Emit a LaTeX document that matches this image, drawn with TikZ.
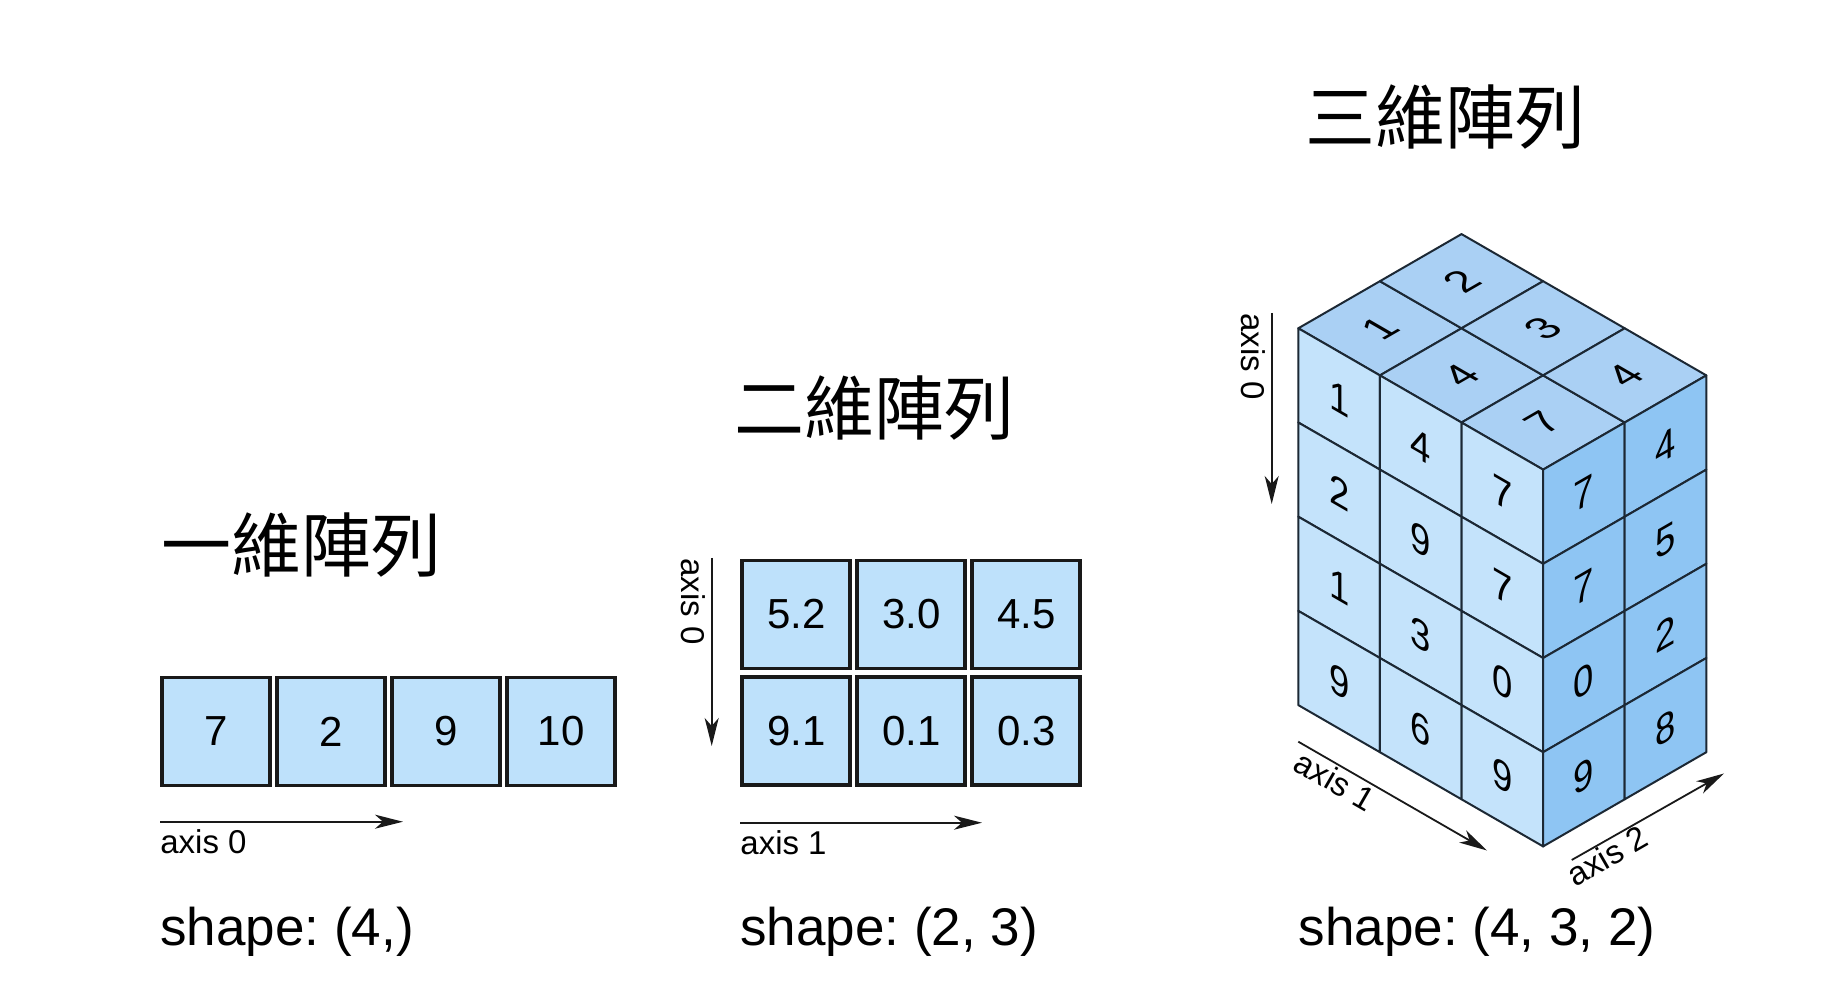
\documentclass[tikz,border=0pt]{standalone}
\usepackage{fontspec}
\setmainfont{Liberation Sans}
\newfontfamily\cjkfont{Noto Sans CJK TC}
\usepackage{tikz}
\usetikzlibrary{arrows.meta}
\frenchspacing
\definecolor{cellblue}{RGB}{190,225,251}
\definecolor{topblue}{RGB}{170,208,244}
\definecolor{leftblue}{RGB}{196,227,251}
\definecolor{rightblue}{RGB}{142,197,243}
\definecolor{edgeline}{RGB}{28,40,52}
\tikzset{
  cell/.style={
    rectangle, draw=black!90, line width=1.75pt, fill=cellblue,
    minimum size=54pt, inner sep=0pt, outer sep=0pt, font=\fontsize{21}{21}\selectfont
  },
  topface/.style={draw=edgeline, line width=1pt, line join=round, fill=topblue},
  leftface/.style={draw=edgeline, line width=1pt, line join=round, fill=leftblue},
  rightface/.style={draw=edgeline, line width=1pt, line join=round, fill=rightblue},
  facenum/.style={transform shape, inner sep=0pt, font=\fontsize{21}{21}\selectfont},
  axisarrow/.style={-{Stealth[length=14pt, width=7pt, inset=4pt]}, line width=0.9pt, draw=black!90},
  axislabel/.style={inner sep=0pt, anchor=north west, font=\fontsize{16.5}{16.5}\selectfont},
  arrtitle/.style={anchor=west, inner sep=0pt, font=\cjkfont\fontsize{35}{35}\selectfont},
  shapelabel/.style={anchor=base west, inner sep=0pt, font=\fontsize{26.5}{26.5}\selectfont}
}
\begin{document}
\begin{tikzpicture}[x=0.5pt, y=-0.5pt]

\path[use as bounding box, fill=white] (0,0) rectangle (1842,988);

% one dimension
\node[arrtitle] (titleA) at (161,545.5) {一維陣列};
\foreach \v [count=\i from 0] in {7,2,9,10}
  \node[cell] (a\i) at ({216.2+115*\i},731.5) {\v};
\coordinate (axA0s) at (160,821.7);
\coordinate (axA0e) at (403,821.7);
\draw[axisarrow] (axA0s) -- (axA0e);
\node[axislabel] (labA0) at (160,829) {axis 0};
\node[shapelabel] (shapeA) at (160,945) {shape: (4,)};

% two dimensions
\node[arrtitle] (titleB) at (734,408) {二維陣列};
\foreach \v [count=\j from 0] in {5.2,3.0,4.5}
  \node[cell] (b0\j) at ({796.2+115*\j},614.5) {\v};
\foreach \v [count=\j from 0] in {9.1,0.1,0.3}
  \node[cell] (b1\j) at ({796.2+115*\j},731) {\v};
\coordinate (axB0s) at (711.7,558);
\coordinate (axB0e) at (711.7,746);
\draw[axisarrow] (axB0s) -- (axB0e);
\node[axislabel, rotate=-90] (labB0) at (706,558) {axis 0};
\coordinate (axB1s) at (740,822.7);
\coordinate (axB1e) at (982,822.7);
\draw[axisarrow] (axB1s) -- (axB1e);
\node[axislabel] (labB1) at (740,830) {axis 1};
\node[shapelabel] (shapeB) at (740,945) {shape: (2, 3)};

% three dimensions
\node[arrtitle] (titleC) at (1305,117) {三維陣列};
\begin{scope}[shift={(1298.3,328.3)}, x={(40.8pt,-23.55pt)}, y={(40.8pt,23.55pt)}, z={(0pt,-47.1pt)}]
  \foreach \i/\j/\v in {0/0/1, 0/1/2, 1/0/4, 1/1/3, 2/0/7, 2/1/4} {
    \filldraw[topface] (\i,\j,0) -- ++(1,0,0) -- ++(0,1,0) -- ++(-1,0,0) -- cycle;
    \node[facenum, cm={0.866,0.5,-0.866,0.5,(0,0)}] (t\i\j) at ({\i+0.5},{\j+0.5},0) {\v};
  }
  \foreach \k/\va/\vb/\vc in {0/1/4/7, 1/2/9/7, 2/1/3/0, 3/9/6/9} {
    \foreach \i/\v in {0/\va, 1/\vb, 2/\vc} {
      \filldraw[leftface] (\i,0,\k) -- ++(1,0,0) -- ++(0,0,1) -- ++(-1,0,0) -- cycle;
      \node[facenum, cm={0.866,-0.5,0,1,(0,0)}] (l\k\i) at ({\i+0.5},0,{\k+0.5}) {\v};
    }
  }
  \foreach \k/\va/\vb in {0/7/4, 1/7/5, 2/0/2, 3/9/8} {
    \foreach \j/\v in {0/\va, 1/\vb} {
      \filldraw[rightface] (3,\j,\k) -- ++(0,1,0) -- ++(0,0,1) -- ++(0,-1,0) -- cycle;
      \node[facenum, cm={0.866,0.5,0,1,(0,0)}] (r\k\j) at (3,{\j+0.5},{\k+0.5}) {\v};
    }
  }
\end{scope}
\coordinate (axC0s) at (1271.7,313);
\coordinate (axC0e) at (1271.7,504);
\draw[axisarrow] (axC0s) -- (axC0e);
\node[axislabel, rotate=-90] (labC0) at (1266,313) {axis 0};
\coordinate (axC1s) at (1298.3,741.7);
\coordinate (axC1e) at (1487,850.5);
\draw[axisarrow] (axC1s) -- (axC1e);
\node[axislabel, rotate=-30] (labC1) at (1303.7,748.3) {axis 1};
\coordinate (axC2s) at (1571.7,860);
\coordinate (axC2e) at (1724,773.5);
\draw[axisarrow] (axC2s) -- (axC2e);
\node[axislabel, rotate=30] (labC2) at (1563,867) {axis 2};
\node[shapelabel] (shapeC) at (1298.3,945) {shape: (4, 3, 2)};

\end{tikzpicture}
\end{document}
